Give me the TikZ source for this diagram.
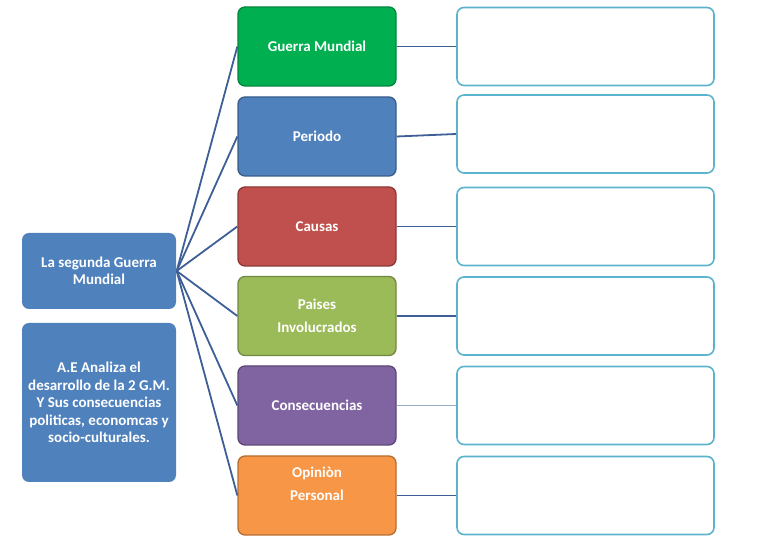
\documentclass[tikz,border=0pt]{standalone}
\usepackage{fontspec}
\setmainfont{Carlito}
\usepackage{tikz}
\usetikzlibrary{positioning,calc}
\definecolor{gmgreen}{HTML}{00B050}
\definecolor{gmgreenD}{HTML}{00863D}
\definecolor{gmblue}{HTML}{4F81BD}
\definecolor{gmblueD}{HTML}{385D8A}
\definecolor{gmred}{HTML}{C0504D}
\definecolor{gmredD}{HTML}{8C3836}
\definecolor{gmolive}{HTML}{9BBB59}
\definecolor{gmoliveD}{HTML}{71893F}
\definecolor{gmpurple}{HTML}{8064A2}
\definecolor{gmpurpleD}{HTML}{5C4776}
\definecolor{gmorange}{HTML}{F79646}
\definecolor{gmorangeD}{HTML}{B66D31}
\definecolor{gmaqua}{HTML}{5BB3CC}
\definecolor{gmline}{HTML}{3E5F95}
\definecolor{gmlight}{HTML}{95AFC8}

\begin{document}
\begin{tikzpicture} [x=1pt, y=1pt,
    line width=1.4pt,
    every node/.style={rounded corners=7pt, inner sep=0pt, align=center,
      text=white, font=\bfseries\fontsize{15}{17.5}\selectfont},
    topic/.style={draw=#1D, fill=#1, line width=1.3pt,
      minimum width=158, minimum height=79},
    answer/.style={draw=gmaqua, fill=white, line width=1.6pt,
      minimum width=257, minimum height=78},
    link/.style={draw=gmline, line width=1.8pt}]
  \useasboundingbox (0,0) rectangle (768,543);

  \node[fill=gmblue, minimum width=154, minimum height=76] (tema) at (99,272)
    {La segunda Guerra\\Mundial};
  \node[fill=gmblue, minimum width=154, minimum height=159] (ae) at (99,140.5)
    {A.E Analiza el\\desarrollo de la 2 G.M.\\Y Sus consecuencias\\politicas, economcas y\\socio-culturales.};

  \node[topic=gmgreen]  (guerra)  at (317,496.5) {Guerra Mundial};
  \node[topic=gmblue]   (periodo) at (317,406.5) {Periodo};
  \node[topic=gmred]    (causas)  at (317,316.5) {Causas};
  \node[topic=gmolive, font=\bfseries\fontsize{15}{23}\selectfont]
                        (paises)  at (317,227)   {Paises\\Involucrados};
  \node[topic=gmpurple] (conse)   at (317,137.5) {Consecuencias};
  \node[topic=gmorange, font=\bfseries\fontsize{15}{23}\selectfont]
                        (opinion) at (317,47.5)  {Opiniòn\\Personal\\\mbox{}};

  \node[answer] (rguerra)  at (585.5,496.5) {};
  \node[answer] (rperiodo) at (585.5,409)   {};
  \node[answer] (rcausas)  at (585.5,316.5) {};
  \node[answer] (rpaises)  at (585.5,227)   {};
  \node[answer] (rconse)   at (585.5,137.5) {};
  \node[answer] (ropinion) at (585.5,47.5)  {};

  \foreach \t in {guerra,periodo,causas,paises,conse,opinion}
    \draw[link] (tema.east) -- (\t.west);

  \draw[link] (guerra.east) -- (rguerra.west);
  \draw[link] (periodo.east) -- (rperiodo.west);
  \draw[link] (causas.east) -- (rcausas.west);
  \draw[link] (paises.east) -- (rpaises.west);
  \draw[link, draw=gmlight] (conse.east) -- (rconse.west);
  \draw[link] (opinion.east) -- (ropinion.west);
\end{tikzpicture}
\end{document}
